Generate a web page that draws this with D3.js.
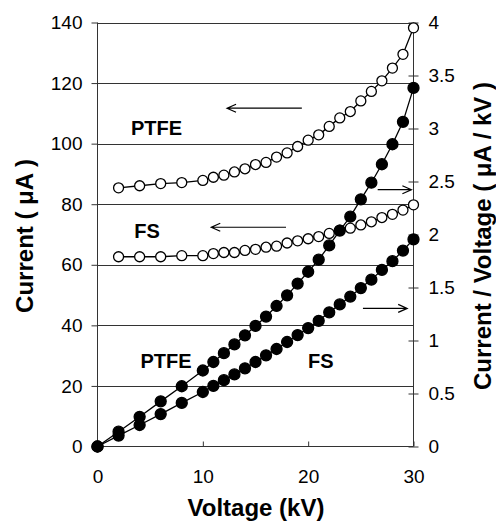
<!DOCTYPE html>
<html><head><meta charset="utf-8">
<script src="https://cdn.jsdelivr.net/npm/d3@7"></script>
<style>body{margin:0;background:#fff}svg{display:block}</style></head>
<body><svg id="c" width="496" height="521"></svg>
<script>
// Voltage (kV) for current curves (filled markers, left axis)
const voltage = [0,2,4,6,8,10,11,12,13,14,15,16,17,18,19,20,21,22,23,24,25,26,27,28,29,30];
const ptfeCurrent = [0,4.9,9.8,14.9,19.9,25.1,27.9,30.8,33.7,36.7,39.8,42.9,46.4,49.9,53.8,57.7,61.7,66.4,71.3,75.9,81.6,87.1,93.2,99.8,107.2,118.4];
const fsCurrent = [0,3.6,7.1,10.7,14.4,18.0,20.0,21.9,23.8,25.8,27.9,30.1,32.2,34.5,36.8,39.1,41.5,44.3,46.9,49.5,52.3,55.1,58.3,61.2,64.7,68.4];
// Voltage (kV) for current/voltage curves (open markers, right axis)
const ratioVoltage = [2,4,6,8,10,11,12,13,14,15,16,17,18,19,20,21,22,23,24,25,26,27,28,29,30];
const ptfeRatio = [2.44,2.46,2.48,2.49,2.51,2.54,2.56,2.59,2.62,2.66,2.68,2.73,2.77,2.83,2.89,2.94,3.02,3.10,3.16,3.26,3.35,3.45,3.57,3.70,3.95];
const fsRatio = [1.79,1.79,1.79,1.80,1.80,1.82,1.83,1.83,1.85,1.86,1.88,1.89,1.92,1.94,1.96,1.98,2.01,2.04,2.06,2.09,2.12,2.16,2.19,2.23,2.28];
const leftTicks = [0,20,40,60,80,100,120,140];
const rightTicks = [0,0.5,1,1.5,2,2.5,3,3.5,4];
const xTicks = [0,10,20,30];

const svg = d3.select('#c');
const X0=97.5, X1=413.5, Y0=446.5, Y1=22.5;
const x = d3.scaleLinear().domain([0,30]).range([X0,X1]);
const yL = d3.scaleLinear().domain([0,140]).range([Y0,Y1]);
const yR = d3.scaleLinear().domain([0,4]).range([Y0,Y1]);
const font = "'Liberation Sans', Arial, sans-serif";

// gridlines
svg.append('g').selectAll('line').data(leftTicks.filter(d=>d>0)).join('line')
  .attr('x1',X0).attr('x2',X1).attr('y1',d=>Math.round(yL(d))+0.5).attr('y2',d=>Math.round(yL(d))+0.5)
  .attr('stroke','#333').attr('stroke-width',1);

// axes
const gL = svg.append('g').attr('transform',`translate(${X0},0)`)
  .call(d3.axisLeft(yL).tickValues(leftTicks).tickSize(6).tickPadding(9));
const gR = svg.append('g').attr('transform',`translate(${X1},0)`)
  .call(d3.axisRight(yR).tickValues(rightTicks).tickFormat(d3.format('')).tickSize(5).tickPadding(10));
gR.selectAll('.tick line').attr('x1',-5);
const gB = svg.append('g').attr('transform',`translate(0,${Y0})`)
  .call(d3.axisBottom(x).tickValues(xTicks).tickSize(-5).tickPadding(23));
[gL,gR,gB].forEach(g=>{
  g.select('.domain').attr('stroke','#333');
  g.selectAll('.tick line').attr('stroke','#333');
  g.selectAll('text').attr('font-family',font).attr('font-size',19).attr('fill','#000');
});
gL.select('.domain').attr('d',`M0,${Y0}V${Y1}`);
gR.select('.domain').attr('d',`M0,${Y0}V${Y1}`);
gB.select('.domain').attr('d',`M${X0},0H${X1}`);

// lines
function drawLine(xs, fy){
  svg.append('path').datum(xs)
    .attr('d', d3.line().x(d=>x(d)).y((d,i)=>fy(i)))
    .attr('fill','none').attr('stroke','#000').attr('stroke-width',1.3);
}
drawLine(voltage, i=>yL(ptfeCurrent[i]));
drawLine(voltage, i=>yL(fsCurrent[i]));
drawLine(ratioVoltage, i=>yR(ptfeRatio[i]));
drawLine(ratioVoltage, i=>yR(fsRatio[i]));

function drawPts(xs, fy, filled){
  svg.append('g').selectAll('circle').data(xs).join('circle')
    .attr('cx',d=>x(d)).attr('cy',(d,i)=>fy(i)).attr('r',filled?5.5:5)
    .attr('fill',filled?'#000':'#fff').attr('stroke','#000').attr('stroke-width',1.3);
}
drawPts(ratioVoltage, i=>yR(ptfeRatio[i]), false);
drawPts(ratioVoltage, i=>yR(fsRatio[i]), false);
drawPts(voltage, i=>yL(ptfeCurrent[i]), true);
drawPts(voltage, i=>yL(fsCurrent[i]), true);

// labels
const labels = [
  {t:'PTFE', v:5.6, c:105.2},
  {t:'FS', v:4.7, c:71},
  {t:'PTFE', v:6.5, c:28.3},
  {t:'FS', v:21.2, c:28.3}
];
svg.append('g').selectAll('text').data(labels).join('text')
  .attr('x',d=>x(d.v)).attr('y',d=>yL(d.c)).attr('font-family',font).attr('font-weight','bold')
  .attr('font-size',20).attr('text-anchor','middle').attr('dy','0.35em').text(d=>d.t);

// arrows
const arrows = [
  {a:19.4, b:12.3, c:111.7},
  {a:17.9, b:10.8, c:72.4},
  {a:26.6, b:29.8, c:84.8},
  {a:25.2, b:29.4, c:45.6}
];
arrows.forEach(d=>{
  const xa=x(d.a), xb=x(d.b), yy=yL(d.c), s=Math.sign(xb-xa);
  svg.append('path').attr('d',`M${xa},${yy}H${xb}M${xb-s*9},${yy-4}L${xb},${yy}L${xb-s*9},${yy+4}`)
    .attr('fill','none').attr('stroke','#000').attr('stroke-width',1.2);
});

// titles
svg.append('text').attr('x',256).attr('y',516).attr('text-anchor','middle')
  .attr('font-family',font).attr('font-weight','bold').attr('font-size',24).text('Voltage  (kV)');
svg.append('text').attr('transform','translate(33,236) rotate(-90)').attr('text-anchor','middle')
  .attr('font-family',font).attr('font-weight','bold').attr('font-size',24).text('Current  ( μA )');
svg.append('text').attr('transform','translate(491,236) rotate(-90)').attr('text-anchor','middle')
  .attr('font-family',font).attr('font-weight','bold').attr('font-size',24).text('Current / Voltage  ( μA / kV )');
</script></body></html>
